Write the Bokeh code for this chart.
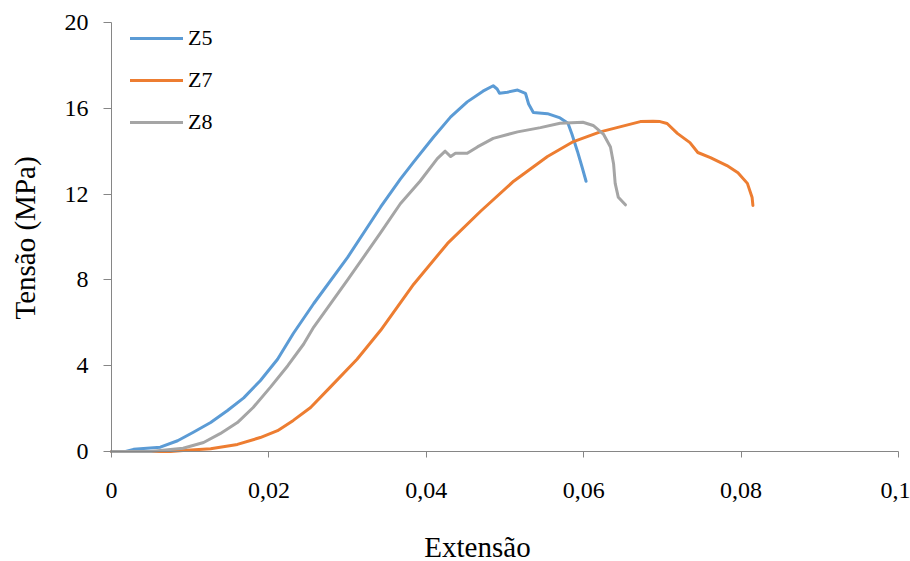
import math
from bokeh.plotting import figure
from bokeh.models import Range1d, FixedTicker, CustomJSTickFormatter, Legend, LegendItem, Label
from bokeh.embed import file_html
from bokeh.resources import INLINE

# ---- data ----
z5_x = [0.0, 0.0018, 0.0028, 0.0062, 0.0084, 0.0104, 0.0126, 0.0147, 0.0168, 0.0189, 0.0211,
        0.0231, 0.0257, 0.0300, 0.0342, 0.0367, 0.0384, 0.0409, 0.0431, 0.0452, 0.0472, 0.0485,
        0.0490, 0.0493, 0.0503, 0.0516, 0.0526, 0.0530, 0.0536, 0.0554, 0.0570, 0.0580, 0.0585,
        0.0592, 0.0598, 0.0603]
z5_y = [0.0, 0.0, 0.1, 0.2, 0.5, 0.9, 1.35, 1.9, 2.5, 3.3, 4.3,
        5.5, 6.9, 9.05, 11.4, 12.7, 13.5, 14.65, 15.6, 16.3, 16.8, 17.05,
        16.9, 16.7, 16.75, 16.85, 16.7, 16.2, 15.8, 15.75, 15.55, 15.3, 14.8,
        14.0, 13.25, 12.6]

z7_x = [0.0, 0.0075, 0.0091, 0.0126, 0.0160, 0.0189, 0.0211, 0.0231, 0.0253, 0.0278, 0.0312,
        0.0342, 0.0384, 0.0427, 0.0469, 0.0511, 0.0554, 0.0587, 0.0621, 0.0672, 0.0688, 0.0697,
        0.0706, 0.0719, 0.0735, 0.0745, 0.0761, 0.0782, 0.0796, 0.0808, 0.0814, 0.0815]
z7_y = [0.0, 0.0, 0.05, 0.13, 0.33, 0.65, 0.97, 1.45, 2.05, 3.0, 4.3,
        5.65, 7.8, 9.7, 11.2, 12.6, 13.75, 14.45, 14.9, 15.38, 15.4, 15.38,
        15.29, 14.83, 14.4, 13.94, 13.7, 13.33, 13.0, 12.5, 11.84, 11.47]

z8_x = [0.0, 0.0050, 0.0062, 0.0091, 0.0117, 0.0138, 0.0160, 0.0180, 0.0202, 0.0224, 0.0244,
        0.0257, 0.0300, 0.0342, 0.0367, 0.0392, 0.0414, 0.0424, 0.0431, 0.0437, 0.0452, 0.0465,
        0.0485, 0.0516, 0.0545, 0.0570, 0.0599, 0.0612, 0.0625, 0.0634, 0.0638, 0.0640, 0.0644,
        0.0653]
z8_y = [0.0, 0.0, 0.05, 0.15, 0.42, 0.83, 1.35, 2.05, 3.0, 4.0, 5.0,
        5.8, 8.0, 10.2, 11.55, 12.6, 13.65, 14.0, 13.75, 13.9, 13.9, 14.2,
        14.6, 14.9, 15.1, 15.3, 15.35, 15.2, 14.8, 14.2, 13.4, 12.5, 11.85,
        11.5]

series_names = ["Z5", "Z7", "Z8"]
series_colors = ["#5B9BD5", "#ED7D31", "#A5A5A5"]
x_ticks = [0, 0.02, 0.04, 0.06, 0.08, 0.1]
y_ticks = [0, 4, 8, 12, 16, 20]
x_title = "Extensão"
y_title = "Tensão (MPa)"

FONT = "Liberation Serif"
AXIS_COLOR = "#868686"

W, H = 910, 561
# plot-area placement in pixels (axes are drawn at fixed data locations)
X0_PX, X1_PX = 111, 898
Y0_PX, Y1_PX = 451, 22
xs_per_px = (x_ticks[-1] - x_ticks[0]) / (X1_PX - X0_PX)
ys_per_px = (y_ticks[-1] - y_ticks[0]) / (Y0_PX - Y1_PX)
x_range = Range1d(x_ticks[0] - X0_PX * xs_per_px, x_ticks[-1] + (W - X1_PX) * xs_per_px)
y_range = Range1d(y_ticks[0] - (H - Y0_PX) * ys_per_px, y_ticks[-1] + Y1_PX * ys_per_px)

p = figure(width=W, height=H, output_backend="svg", toolbar_location=None,
           x_range=x_range, y_range=y_range,
           min_border_left=0, min_border_right=0, min_border_top=0, min_border_bottom=0)
p.title.visible = False
p.outline_line_color = None
p.grid.visible = False
p.background_fill_color = "white"
p.border_fill_color = "white"

renderers = []
for xs, ys, c in zip([z5_x, z7_x, z8_x], [z5_y, z7_y, z8_y], series_colors):
    r = p.line(xs, ys, line_color=c, line_width=3, line_join="round", line_cap="round")
    renderers.append(r)

fmt = CustomJSTickFormatter(code="""
let s = tick.toFixed(2).replace(/0+$/, '').replace(/\\.$/, '');
return s.replace('.', ',');
""")

for ax in (p.xaxis[0], p.yaxis[0]):
    ax.fixed_location = 0
    ax.axis_line_color = AXIS_COLOR
    ax.axis_line_width = 1
    ax.major_tick_line_color = AXIS_COLOR
    ax.minor_tick_line_color = None
    ax.major_tick_in = 0
    ax.major_label_text_font = FONT
    ax.major_label_text_font_size = "24px"
    ax.major_label_text_color = "black"
    ax.formatter = fmt

p.xaxis.ticker = FixedTicker(ticks=x_ticks)
p.yaxis.ticker = FixedTicker(ticks=y_ticks)
p.xaxis.bounds = (x_ticks[0], x_ticks[-1])
p.yaxis.bounds = (y_ticks[0], y_ticks[-1])
p.xaxis.major_tick_out = 6
p.yaxis.major_tick_out = 8
p.xaxis.major_label_standoff = 25
p.yaxis.major_label_standoff = 15

# axis titles (screen units measured from the bottom-left of the canvas)
p.add_layout(Label(x=477, y=H - 546, x_units="screen", y_units="screen", text=x_title,
                   text_font=FONT, text_font_size="29px", text_color="black",
                   text_align="center", text_baseline="alphabetic"))
p.add_layout(Label(x=24, y=H - 237.5, x_units="screen", y_units="screen", text=y_title,
                   angle=math.pi / 2, text_font=FONT, text_font_size="29px", text_color="black",
                   text_align="center", text_baseline="middle"))

legend = Legend(items=[LegendItem(label=n, renderers=[r]) for n, r in zip(series_names, renderers)],
                location=(130, H - 135))
legend.border_line_color = None
legend.background_fill_alpha = 0
legend.padding = 0
legend.margin = 0
legend.spacing = 16
legend.glyph_width = 53
legend.glyph_height = 20
legend.label_height = 20
legend.label_standoff = 5
legend.label_text_font = FONT
legend.label_text_font_size = "22px"
legend.label_text_color = "black"
p.add_layout(legend)

open("out.html", "w").write(file_html(p, INLINE))
